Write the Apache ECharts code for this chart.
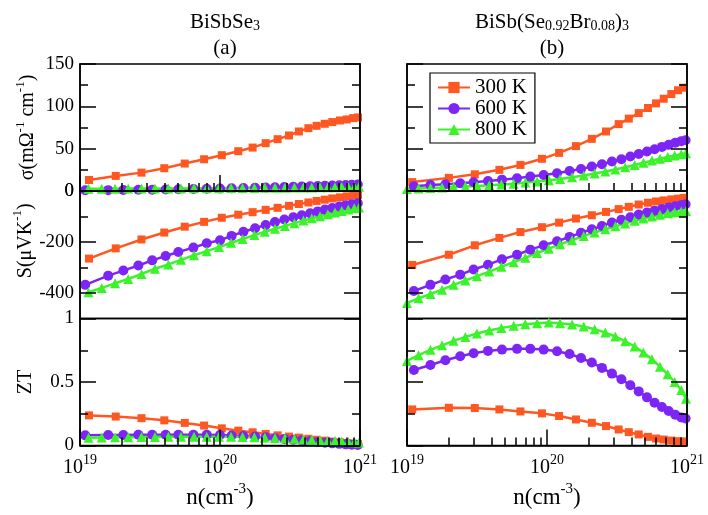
<!DOCTYPE html>
<html><head><meta charset="utf-8">
<script src="https://cdn.jsdelivr.net/npm/echarts@6/dist/echarts.min.js"></script>
<style>html,body{margin:0;padding:0;background:#fff}#c{width:708px;height:515px}</style>
</head><body><div id="c"></div><script>
// ---- data ----
const xMinorTicks = [2e19,3e19,4e19,5e19,6e19,7e19,8e19,9e19,2e20,3e20,4e20,5e20,6e20,7e20,8e20,9e20];
const temps = ['300 K', '600 K', '800 K'];

// carrier concentration sampling (cm^-3)
const nA300 = [1.16e19,1.80e19,2.75e19,4.0e19,5.6e19,7.7e19,1.03e20,1.35e20,1.71e20,2.12e20,2.58e20,3.11e20,3.66e20,4.28e20,4.9e20,5.6e20,6.34e20,7.19e20,8.04e20,8.95e20,9.68e20];
const nA600 = [1.09e19,1.59e19,2.04e19,2.61e19,3.28e19,4.09e19,5.04e19,6.46e19,8.04e19,1.0e20,1.21e20,1.47e20,1.78e20,2.12e20,2.47e20,2.88e20,3.34e20,3.84e20,4.4e20,4.99e20,5.62e20,6.34e20,7.11e20,7.91e20,8.73e20,9.64e20];
const nA800 = [1.15e19,1.43e19,1.78e19,2.21e19,2.75e19,3.43e19,4.28e19,5.26e19,6.52e19,8.04e19,9.84e19,1.2e20,1.45e20,1.76e20,2.09e20,2.47e20,2.91e20,3.4e20,3.94e20,4.52e20,5.18e20,5.89e20,6.62e20,7.4e20,8.24e20,9.1e20,9.84e20];
const nB300 = [1.09e19,1.99e19,3.05e19,4.57e19,6.46e19,9.2e19,1.22e20,1.61e20,2.09e20,2.64e20,3.25e20,3.84e20,4.52e20,5.26e20,6.01e20,6.82e20,7.73e20,8.63e20,9.46e20];
const nB600 = [1.12e19,1.47e19,1.88e19,2.4e19,2.99e19,3.79e19,4.77e19,6.11e19,7.6e19,9.46e19,1.18e20,1.45e20,1.75e20,2.09e20,2.47e20,2.91e20,3.4e20,3.94e20,4.52e20,5.18e20,5.87e20,6.62e20,7.4e20,8.24e20,9.1e20,9.77e20];
const nB800 = [1.0e19,1.21e19,1.47e19,1.78e19,2.15e19,2.61e19,3.16e19,3.87e19,4.72e19,5.78e19,7.0e19,8.49e19,1.03e20,1.24e20,1.51e20,1.83e20,2.19e20,2.61e20,3.08e20,3.62e20,4.23e20,4.88e20,5.62e20,6.41e20,7.28e20,8.17e20,9.1e20,9.84e20];

// (a) BiSbSe3
const sigA300 = [13.0,17.8,21.7,26.9,32.4,37.5,42.3,47.0,51.3,56.5,61.2,65.6,70.3,74.2,77.0,79.4,81.4,83.3,84.5,86.1,86.9];
const sigA600 = [0.8,1.0,1.2,1.4,1.6,1.8,2.0,2.3,2.6,2.9,3.2,3.5,3.8,4.1,4.4,4.7,5.0,5.3,5.6,5.9,6.2,6.5,6.8,7.1,7.4,7.7];
const sigA800 = [2.6,2.7,2.8,2.9,3.0,3.0,3.1,3.1,3.2,3.3,3.3,3.4,3.5,3.6,3.7,3.8,3.9,4.0,4.1,4.2,4.3,4.4,4.5,4.6,4.7,4.8,4.9];
const sA300 = [-265,-225,-190,-163,-140,-121,-105,-93,-83,-74,-66,-58,-51,-45,-39,-34,-29,-25,-21,-18,-16];
const sA600 = [-368,-332,-312,-292,-272,-255,-239,-222,-205,-193,-176,-160,-146,-133,-122,-112,-103,-95,-87,-80,-73,-67,-61,-56,-52,-48];
const sA800 = [-397,-380,-362,-345,-325,-305,-288,-270,-252,-236,-220,-203,-188,-173,-160,-148,-137,-126,-116,-107,-99,-91,-84,-78,-73,-68,-65];
const ztA300 = [0.237,0.228,0.215,0.198,0.178,0.157,0.135,0.117,0.104,0.091,0.080,0.070,0.062,0.053,0.045,0.038,0.031,0.025,0.020,0.015,0.011];
const ztA600 = [0.080,0.082,0.083,0.084,0.085,0.085,0.085,0.085,0.084,0.082,0.079,0.075,0.070,0.064,0.058,0.052,0.045,0.039,0.033,0.027,0.022,0.017,0.013,0.009,0.006,0.004];
const ztA800 = [0.062,0.063,0.064,0.065,0.066,0.067,0.068,0.068,0.069,0.069,0.069,0.068,0.067,0.065,0.063,0.060,0.057,0.054,0.050,0.046,0.042,0.038,0.035,0.031,0.028,0.025,0.023];

// (b) BiSb(Se0.92Br0.08)3
const sigB300 = [10.5,15.5,19.7,25.0,30.8,38.0,45.0,53.0,61.6,70.3,79.0,85.5,92.0,98.0,103.5,109.0,114.5,119.0,122.0];
const sigB600 = [5.5,7.1,7.9,9.1,10.3,11.8,13.4,15.0,17.0,19.0,20.9,23.7,26.0,28.8,31.6,34.8,37.5,40.7,43.8,46.6,49.4,52.1,54.5,56.9,58.9,60.0];
const sigB800 = [2.5,3.0,3.5,4.0,4.6,5.3,6.0,6.8,7.7,8.7,9.9,11.2,12.7,14.3,16.2,18.3,20.6,23.0,25.5,28.1,30.8,33.4,35.9,38.1,40.2,42.0,43.5,44.5];
const sB300 = [-290,-250,-213,-184,-161,-142,-124,-108,-95,-82,-71,-62,-53,-46,-41,-37,-33,-30,-27];
const sB600 = [-392,-368,-347,-328,-308,-289,-268,-250,-230,-213,-197,-180,-164,-150,-137,-124,-113,-103,-92,-84,-77,-71,-65,-60,-56,-52];
const sB800 = [-439,-421,-404,-387,-368,-351,-334,-316,-297,-279,-262,-243,-226,-209,-193,-176,-163,-150,-138,-127,-117,-108,-100,-93,-87,-83,-80,-78];
const ztB300 = [0.284,0.297,0.295,0.284,0.268,0.253,0.232,0.205,0.179,0.153,0.126,0.105,0.087,0.068,0.055,0.047,0.039,0.034,0.032];
const ztB600 = [0.595,0.634,0.671,0.703,0.726,0.745,0.755,0.761,0.761,0.755,0.742,0.721,0.689,0.653,0.611,0.566,0.521,0.474,0.426,0.379,0.337,0.303,0.271,0.242,0.221,0.212];
const ztB800 = [0.666,0.711,0.753,0.789,0.824,0.855,0.882,0.905,0.926,0.942,0.955,0.963,0.968,0.963,0.953,0.937,0.916,0.889,0.858,0.821,0.779,0.732,0.679,0.621,0.561,0.500,0.437,0.368];

// y axis ticks
const sigMajor = [0,50,100,150], sigMinor = [25,75,125];
const sMajor = [-400,-200,0], sMinor = [-500,-300,-100];
const ztMajor = [0,0.5,1], ztMinor = [0.25,0.75];

// ---- styling ----
const FONT = 'Liberation Serif';
const colors = ['#ff5722', '#7d25f5', '#3cf22a'];
const symbols = ['rect', 'circle', 'triangle'];
const symSizes = [8, 10, 10];

const panels = [
  {col:0,row:0,ymin:0,ymax:150,major:sigMajor,minor:sigMinor,n:[nA300,nA600,nA800],y:[sigA300,sigA600,sigA800]},
  {col:0,row:1,ymin:-500,ymax:0,major:sMajor,minor:sMinor,n:[nA300,nA600,nA800],y:[sA300,sA600,sA800]},
  {col:0,row:2,ymin:0,ymax:1,major:ztMajor,minor:ztMinor,n:[nA300,nA600,nA800],y:[ztA300,ztA600,ztA800]},
  {col:1,row:0,ymin:0,ymax:150,major:sigMajor,minor:sigMinor,n:[nB300,nB600,nB800],y:[sigB300,sigB600,sigB800]},
  {col:1,row:1,ymin:-500,ymax:0,major:sMajor,minor:sMinor,n:[nB300,nB600,nB800],y:[sB300,sB600,sB800]},
  {col:1,row:2,ymin:0,ymax:1,major:ztMajor,minor:ztMinor,n:[nB300,nB600,nB800],y:[ztB300,ztB600,ztB800]}
];
const colLeft = [80, 407], colWidth = 280;
const rowTop = [64, 191, 318.5], rowH = [127, 127.5, 127];
const yNames = [
  '{m|σ(mΩ}{p|-1}{m| cm}{p|-1}{m|)}',
  '{m|S(μVK}{p|-1}{m|)}',
  '{m|ZT}'
];
const nameRich = {
  m:{fontFamily:FONT,fontSize:20,fontWeight:'normal',lineHeight:24,color:'#000',verticalAlign:'bottom'},
  p:{fontFamily:FONT,fontSize:13,fontWeight:'normal',lineHeight:12,color:'#000',verticalAlign:'top'}
};
const black = {color:'#000', width:1.5};
const AZ = 5; // axes drawn over the curves, as in the reference

const grid = [], xAxis = [], yAxis = [], series = [];
panels.forEach((p, g) => {
  grid.push({left:colLeft[p.col], top:rowTop[p.row], width:colWidth, height:rowH[p.row],
    show:true, borderColor:'#000', borderWidth:1.5, backgroundColor:'transparent'});
  const bottomRow = p.row === 2;
  const xMain = xAxis.length;
  xAxis.push({type:'log', logBase:10, gridIndex:g, position:'bottom', min:1e19, max:1e21, z:AZ,
    axisLine:{show:true, lineStyle:black},
    axisTick:{show:true, inside:true, length:16, lineStyle:black},
    splitLine:{show:false},
    axisLabel:{show:bottomRow, margin:8, showMinLabel:true, showMaxLabel:true, hideOverlap:false,
      formatter: v => '{b|10}{s|' + Math.round(Math.log10(v)) + '}',
      rich:{b:{fontFamily:FONT,fontSize:20,lineHeight:24,color:'#000',verticalAlign:'bottom'},
            s:{fontFamily:FONT,fontSize:14,lineHeight:12,color:'#000',verticalAlign:'top'}}},
    name: bottomRow ? '{m|n(cm}{p|-3}{m|)}' : '',
    nameLocation:'middle', nameGap:36,
    nameTextStyle:{rich:{
      m:{fontFamily:FONT,fontSize:23,lineHeight:28,color:'#000',verticalAlign:'bottom'},
      p:{fontFamily:FONT,fontSize:15,lineHeight:14,color:'#000',verticalAlign:'top'}}}
  });
  xAxis.push({type:'log', logBase:10, gridIndex:g, position:'bottom', min:1e19, max:1e21, z:AZ,
    axisLine:{show:false}, splitLine:{show:false}, axisLabel:{show:false},
    axisTick:{show:true, inside:true, length:8, lineStyle:black, customValues: xMinorTicks}});

  const yMain = yAxis.length;
  const showLab = p.col === 0;
  yAxis.push({type:'value', gridIndex:g, position:'left', min:p.ymin, max:p.ymax, z:AZ,
    axisLine:{show:true, lineStyle:black}, splitLine:{show:false},
    axisTick:{show:true, inside:true, length:16, lineStyle:black, customValues:p.major},
    axisLabel:{show:showLab, margin:6, customValues:p.major, fontFamily:FONT, fontSize:19, color:'#000'},
    name: showLab ? yNames[p.row] : '', nameLocation:'middle', nameRotate:90,
    nameGap: p.row === 2 ? 44 : 42,
    nameTextStyle:{rich:nameRich, padding: p.row === 1 ? [0,0,0,28] : 0}
  });
  yAxis.push({type:'value', gridIndex:g, position:'left', min:p.ymin, max:p.ymax, z:AZ,
    axisLine:{show:false}, splitLine:{show:false}, axisLabel:{show:false},
    axisTick:{show:true, inside:true, length:8, lineStyle:black, customValues:p.minor}});
  yAxis.push({type:'value', gridIndex:g, position:'right', min:p.ymin, max:p.ymax, z:AZ,
    axisLine:{show:true, lineStyle:black}, splitLine:{show:false}, axisLabel:{show:false},
    axisTick:{show:true, inside:true, length:16, lineStyle:black, customValues:p.major}});
  yAxis.push({type:'value', gridIndex:g, position:'right', min:p.ymin, max:p.ymax, z:AZ,
    axisLine:{show:false}, splitLine:{show:false}, axisLabel:{show:false},
    axisTick:{show:true, inside:true, length:8, lineStyle:black, customValues:p.minor}});

  for (let t = 0; t < 3; t++) {
    series.push({
      type:'line', name:temps[t], xAxisIndex:xMain, yAxisIndex:yMain,
      data: p.n[t].map((n, i) => [n, p.y[t][i]]),
      symbol:symbols[t], symbolSize:symSizes[t], showSymbol:true, showAllSymbol:true,
      clip:false, animation:false,
      itemStyle:{color:colors[t]}, lineStyle:{color:colors[t], width:2.5}
    });
  }
});

const titleRich = {
  m:{fontFamily:FONT,fontSize:21,fontWeight:'normal',lineHeight:26,color:'#000',verticalAlign:'bottom'},
  s:{fontFamily:FONT,fontSize:14,fontWeight:'normal',lineHeight:12,color:'#000',verticalAlign:'bottom'}
};
const option = {
  backgroundColor:'#fff',
  animation:false,
  title:[
    {text:'{m|BiSbSe}{s|3}\n{m|(a)}', left:220, top:2, textAlign:'center', textStyle:{fontWeight:'normal', rich:titleRich}},
    {text:'{m|BiSb(Se}{s|0.92}{m|Br}{s|0.08}{m|)}{s|3}\n{m|(b)}', left:547, top:2, textAlign:'center', textStyle:{fontWeight:'normal', rich:titleRich}}
  ],
  legend:{data:temps, orient:'vertical', left:430, top:73, backgroundColor:'#fff', z:10,
    borderColor:'#000', borderWidth:1.2, borderRadius:0, padding:[4,8,3,7], itemGap:0,
    itemWidth:32, itemHeight:14, selectedMode:false,
    textStyle:{fontFamily:FONT, fontSize:21, lineHeight:21, color:'#000'}},
  grid, xAxis, yAxis, series
};
const chart = echarts.init(document.getElementById('c'), null, {renderer:'canvas'});
chart.setOption(option);
</script></body></html>
